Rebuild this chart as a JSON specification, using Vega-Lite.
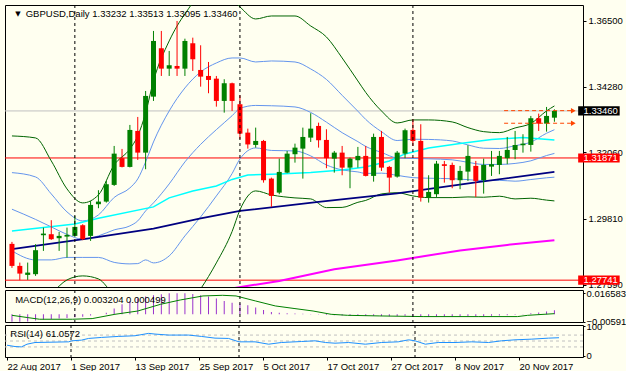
{
"$schema":"https://vega.github.io/schema/vega-lite/v6.json",
"background":"#FFFFF0",
"padding":{"left":4,"top":4,"right":0,"bottom":0},
"spacing":3,
"bounds":"flush",
"config":{"view":{"stroke":"#000000","strokeWidth":1,"fill":"#FFFFF0"},"font":"Liberation Sans",
"axis":{"labelFont":"Liberation Sans","labelFontSize":9.5,"labelColor":"#000000","tickColor":"#000000","domain":false,"grid":false}},
"datasets":{
"ohlc":[
{"i":0,"o":1.28967,"h":1.29034,"l":1.28156,"c":1.28223},
{"i":1,"o":1.28223,"h":1.28335,"l":1.27741,"c":1.27963},
{"i":2,"o":1.27919,"h":1.28335,"l":1.2775,"c":1.27997},
{"i":3,"o":1.27943,"h":1.28956,"l":1.27885,"c":1.28754},
{"i":4,"o":1.2926,"h":1.29517,"l":1.2873,"c":1.29315},
{"i":5,"o":1.29294,"h":1.29767,"l":1.29102,"c":1.29125},
{"i":6,"o":1.29159,"h":1.29372,"l":1.2873,"c":1.29237},
{"i":7,"o":1.29213,"h":1.29517,"l":1.28504,"c":1.29271},
{"i":8,"o":1.29237,"h":1.29912,"l":1.29203,"c":1.29541},
{"i":9,"o":1.29598,"h":1.29632,"l":1.29092,"c":1.29125},
{"i":10,"o":1.29237,"h":1.30419,"l":1.29068,"c":1.30284},
{"i":11,"o":1.30308,"h":1.30781,"l":1.30173,"c":1.30396},
{"i":12,"o":1.30396,"h":1.31095,"l":1.30362,"c":1.30983},
{"i":13,"o":1.3096,"h":1.32277,"l":1.30926,"c":1.32017},
{"i":14,"o":1.31865,"h":1.32176,"l":1.31551,"c":1.31568},
{"i":15,"o":1.31568,"h":1.32987,"l":1.31551,"c":1.32818},
{"i":16,"o":1.32784,"h":1.33257,"l":1.31804,"c":1.32051},
{"i":17,"o":1.32051,"h":1.34135,"l":1.3149,"c":1.33967},
{"i":18,"o":1.33943,"h":1.36163,"l":1.33798,"c":1.35825},
{"i":19,"o":1.35578,"h":1.36163,"l":1.34642,"c":1.34889},
{"i":20,"o":1.34889,"h":1.35487,"l":1.34642,"c":1.35004},
{"i":21,"o":1.3498,"h":1.365,"l":1.34642,"c":1.34889},
{"i":22,"o":1.34889,"h":1.35902,"l":1.34642,"c":1.35825},
{"i":23,"o":1.35747,"h":1.35936,"l":1.34811,"c":1.35206},
{"i":24,"o":1.34845,"h":1.35679,"l":1.34281,"c":1.34619},
{"i":25,"o":1.34642,"h":1.35115,"l":1.34058,"c":1.34507},
{"i":26,"o":1.34551,"h":1.34642,"l":1.33605,"c":1.33798},
{"i":27,"o":1.33798,"h":1.34531,"l":1.33402,"c":1.34396},
{"i":28,"o":1.34396,"h":1.34416,"l":1.3346,"c":1.33798},
{"i":29,"o":1.33686,"h":1.3399,"l":1.32504,"c":1.32693},
{"i":30,"o":1.32727,"h":1.32862,"l":1.32186,"c":1.32328},
{"i":31,"o":1.32311,"h":1.32896,"l":1.3222,"c":1.32446},
{"i":32,"o":1.32446,"h":1.3248,"l":1.31037,"c":1.31119},
{"i":33,"o":1.31173,"h":1.31206,"l":1.30217,"c":1.30588},
{"i":34,"o":1.307,"h":1.31848,"l":1.30646,"c":1.31399},
{"i":35,"o":1.31375,"h":1.32108,"l":1.31355,"c":1.32017},
{"i":36,"o":1.31997,"h":1.32355,"l":1.31713,"c":1.3222},
{"i":37,"o":1.32186,"h":1.32896,"l":1.31173,"c":1.32581},
{"i":38,"o":1.32558,"h":1.33382,"l":1.32412,"c":1.32862},
{"i":39,"o":1.32953,"h":1.33064,"l":1.3222,"c":1.3247},
{"i":40,"o":1.3248,"h":1.32841,"l":1.31524,"c":1.31862},
{"i":41,"o":1.31848,"h":1.32108,"l":1.31375,"c":1.32051},
{"i":42,"o":1.32051,"h":1.32277,"l":1.31287,"c":1.31544},
{"i":43,"o":1.31544,"h":1.31882,"l":1.30848,"c":1.31848},
{"i":44,"o":1.31794,"h":1.32244,"l":1.31544,"c":1.3194},
{"i":45,"o":1.3194,"h":1.32277,"l":1.31247,"c":1.31264},
{"i":46,"o":1.31264,"h":1.32693,"l":1.31071,"c":1.32581},
{"i":47,"o":1.32581,"h":1.32784,"l":1.31433,"c":1.31544},
{"i":48,"o":1.31568,"h":1.31602,"l":1.307,"c":1.31206},
{"i":49,"o":1.3124,"h":1.32108,"l":1.31206,"c":1.32051},
{"i":50,"o":1.32017,"h":1.32862,"l":1.31862,"c":1.32808},
{"i":51,"o":1.32818,"h":1.33179,"l":1.32277,"c":1.32446},
{"i":52,"o":1.32446,"h":1.3301,"l":1.30396,"c":1.30531},
{"i":53,"o":1.30531,"h":1.31287,"l":1.30362,"c":1.30723},
{"i":54,"o":1.30646,"h":1.31771,"l":1.30554,"c":1.31679},
{"i":55,"o":1.31659,"h":1.31771,"l":1.31037,"c":1.31602},
{"i":56,"o":1.31635,"h":1.31713,"l":1.30848,"c":1.31119},
{"i":57,"o":1.31119,"h":1.31602,"l":1.30815,"c":1.31433},
{"i":58,"o":1.31409,"h":1.32301,"l":1.31095,"c":1.3194},
{"i":59,"o":1.31602,"h":1.31771,"l":1.30554,"c":1.31095},
{"i":60,"o":1.31119,"h":1.31848,"l":1.30666,"c":1.31635},
{"i":61,"o":1.31578,"h":1.32108,"l":1.31264,"c":1.31659},
{"i":62,"o":1.31635,"h":1.32108,"l":1.31321,"c":1.3194},
{"i":63,"o":1.31862,"h":1.32581,"l":1.31659,"c":1.32142},
{"i":64,"o":1.32142,"h":1.32784,"l":1.31828,"c":1.32311},
{"i":65,"o":1.32301,"h":1.32673,"l":1.32051,"c":1.32355},
{"i":66,"o":1.32311,"h":1.33291,"l":1.32085,"c":1.33213},
{"i":67,"o":1.33213,"h":1.33369,"l":1.32784,"c":1.33031},
{"i":68,"o":1.33031,"h":1.33595,"l":1.3276,"c":1.33291},
{"i":69,"o":1.33232,"h":1.33513,"l":1.33095,"c":1.3346}
],
"bands":[
{"i":0,"GU":1.32615,"A":1.31375,"B":1.30139,"C":1.2873,"GL":1.27446},
{"i":3,"GU":1.32548,"A":1.3123,"B":1.29794,"C":1.28426,"GL":1.27041},
{"i":5,"GU":1.31771,"A":1.30656,"B":1.29541,"C":1.28426,"GL":1.27311},
{"i":7,"GU":1.30825,"A":1.30048,"B":1.29287,"C":1.2851,"GL":1.2775},
{"i":9,"GU":1.30352,"A":1.29744,"B":1.29125,"C":1.2851,"GL":1.27885},
{"i":11,"GU":1.30622,"A":1.29946,"B":1.29237,"C":1.2851,"GL":1.27784},
{"i":13,"GU":1.31635,"A":1.30537,"B":1.2944,"C":1.28342,"GL":1.27244},
{"i":15,"GU":1.32176,"A":1.30858,"B":1.29575,"C":1.28291,"GL":1.26973},
{"i":16,"GU":1.32615,"A":1.31162,"B":1.29744,"C":1.28301,"GL":1.26872},
{"i":17,"GU":1.33392,"A":1.31737,"B":1.30081,"C":1.28426,"GL":1.26771},
{"i":18,"GU":1.34473,"A":1.32412,"B":1.30352,"C":1.28325,"GL":1.26264},
{"i":20,"GU":1.35825,"A":1.3346,"B":1.30994,"C":1.28561,"GL":1.26129},
{"i":22,"GU":1.36737,"A":1.34237,"B":1.31737,"C":1.29237,"GL":1.26737},
{"i":24,"GU":1.3731,"A":1.34777,"B":1.32331,"C":1.29879,"GL":1.27446},
{"i":26,"GU":1.3731,"A":1.35081,"B":1.32828,"C":1.30588,"GL":1.28325},
{"i":28,"GU":1.3721,"A":1.3525,"B":1.33298,"C":1.31342,"GL":1.29385},
{"i":29,"GU":1.36973,"A":1.3525,"B":1.33544,"C":1.31838,"GL":1.30115},
{"i":31,"GU":1.36568,"A":1.35115,"B":1.33646,"C":1.3221,"GL":1.30757},
{"i":33,"GU":1.36669,"A":1.35149,"B":1.33635,"C":1.32125,"GL":1.30622},
{"i":36,"GU":1.36669,"A":1.35115,"B":1.33595,"C":1.32108,"GL":1.30521},
{"i":38,"GU":1.36331,"A":1.34879,"B":1.33409,"C":1.3194,"GL":1.30487},
{"i":40,"GU":1.3596,"A":1.34524,"B":1.33081,"C":1.31635,"GL":1.30193},
{"i":42,"GU":1.3525,"A":1.33987,"B":1.32725,"C":1.31467,"GL":1.302},
{"i":44,"GU":1.34473,"A":1.3345,"B":1.32423,"C":1.31399,"GL":1.30372},
{"i":45,"GU":1.34085,"A":1.33173,"B":1.3226,"C":1.31348,"GL":1.30436},
{"i":47,"GU":1.3346,"A":1.32759,"B":1.32058,"C":1.31357,"GL":1.30656},
{"i":49,"GU":1.33054,"A":1.3246,"B":1.31872,"C":1.31284,"GL":1.30696},
{"i":51,"GU":1.33156,"A":1.32504,"B":1.31855,"C":1.31206,"GL":1.30588},
{"i":53,"GU":1.33156,"A":1.32497,"B":1.31841,"C":1.31186,"GL":1.30531},
{"i":56,"GU":1.33088,"A":1.32446,"B":1.31808,"C":1.31169,"GL":1.30531},
{"i":58,"GU":1.32896,"A":1.32311,"B":1.31723,"C":1.31139,"GL":1.30554},
{"i":60,"GU":1.3276,"A":1.322,"B":1.31652,"C":1.31105,"GL":1.30544},
{"i":62,"GU":1.32727,"A":1.3219,"B":1.31652,"C":1.31115,"GL":1.30578},
{"i":64,"GU":1.32885,"A":1.32286,"B":1.31686,"C":1.31086,"GL":1.30487},
{"i":66,"GU":1.33038,"A":1.32406,"B":1.31774,"C":1.31142,"GL":1.3051},
{"i":68,"GU":1.3346,"A":1.32706,"B":1.31953,"C":1.312,"GL":1.30446},
{"i":69,"GU":1.33629,"A":1.32826,"B":1.32024,"C":1.31222,"GL":1.30419}
],
"mas":[
{"i":0,"s":"cyan","v":1.29406},{"i":8,"s":"cyan","v":1.29642},{"i":11,"s":"cyan","v":1.29835},{"i":18,"s":"cyan","v":1.30217},{"i":20,"s":"cyan","v":1.30521},{"i":23,"s":"cyan","v":1.30757},{"i":26,"s":"cyan","v":1.30926},{"i":28,"s":"cyan","v":1.31146},{"i":30,"s":"cyan","v":1.31298},{"i":34,"s":"cyan","v":1.31331},{"i":38,"s":"cyan","v":1.31382},{"i":42,"s":"cyan","v":1.31467},{"i":45,"s":"cyan","v":1.31568},{"i":48,"s":"cyan","v":1.31771},{"i":50,"s":"cyan","v":1.32007},{"i":53,"s":"cyan","v":1.3221},{"i":57,"s":"cyan","v":1.32362},{"i":61,"s":"cyan","v":1.32497},{"i":65,"s":"cyan","v":1.32565},{"i":69,"s":"cyan","v":1.3248},
{"i":0,"s":"navy","v":1.28787},{"i":10,"s":"navy","v":1.29159},{"i":18,"s":"navy","v":1.29483},{"i":24,"s":"navy","v":1.29828},{"i":29,"s":"navy","v":1.30081},{"i":39,"s":"navy","v":1.30385},{"i":49,"s":"navy","v":1.30673},{"i":59,"s":"navy","v":1.31044},{"i":69,"s":"navy","v":1.31399},
{"i":28,"s":"mag","v":1.27463},{"i":34,"s":"mag","v":1.27716},{"i":41,"s":"mag","v":1.28112},{"i":49,"s":"mag","v":1.28409},{"i":57,"s":"mag","v":1.28747},{"i":63,"s":"mag","v":1.28933},{"i":69,"s":"mag","v":1.29092}
],
"orders":[
{"g":"a","i":62.6,"p":1.3347},{"g":"a","i":71.4,"p":1.3347},
{"g":"b","i":62.6,"p":1.33044},{"g":"b","i":71.4,"p":1.33044}
],
"seps":[{"i":8},{"i":29},{"i":51}],
"macd":[
{"i":0,"h":-0.0059},{"i":1,"h":-0.0058},{"i":2,"h":-0.0056},{"i":3,"h":-0.0049},{"i":4,"h":-0.0042},{"i":5,"h":-0.0037},{"i":6,"h":-0.0033},{"i":7,"h":-0.0029},{"i":8,"h":-0.0023},{"i":9,"h":-0.002},
{"i":10,"h":-0.001},{"i":11,"h":0.0},{"i":12,"h":0.0012},{"i":13,"h":0.0045},{"i":14,"h":0.0079},{"i":15,"h":0.0105},{"i":16,"h":0.0124},{"i":17,"h":0.014},{"i":18,"h":0.015},{"i":19,"h":0.0158},
{"i":20,"h":0.0166},{"i":21,"h":0.0166},{"i":22,"h":0.0166},{"i":23,"h":0.0161},{"i":24,"h":0.015},{"i":25,"h":0.014},{"i":26,"h":0.0124},{"i":27,"h":0.0105},{"i":28,"h":0.0092},{"i":29,"h":0.0085},
{"i":30,"h":0.0071},{"i":31,"h":0.0053},{"i":32,"h":0.0034},{"i":33,"h":0.0018},{"i":34,"h":0.0012},{"i":35,"h":0.0008},{"i":36,"h":0.0006},{"i":37,"h":0.0004},{"i":38,"h":0.0003},{"i":39,"h":0.0002},
{"i":40,"h":-0.0005},{"i":41,"h":-0.0008},{"i":42,"h":-0.001},{"i":43,"h":-0.0012},{"i":44,"h":-0.0012},{"i":45,"h":-0.0014},{"i":46,"h":-0.0012},{"i":47,"h":-0.0013},{"i":48,"h":-0.0015},{"i":49,"h":-0.0014},
{"i":50,"h":-0.0012},{"i":51,"h":-0.0012},{"i":52,"h":-0.0018},{"i":53,"h":-0.002},{"i":54,"h":-0.0018},{"i":55,"h":-0.0017},{"i":56,"h":-0.0018},{"i":57,"h":-0.0017},{"i":58,"h":-0.0015},{"i":59,"h":-0.0016},
{"i":60,"h":-0.0014},{"i":61,"h":-0.0012},{"i":62,"h":-0.001},{"i":63,"h":-0.0007},{"i":64,"h":-0.0004},{"i":65,"h":-0.0002},{"i":66,"h":0.0008},{"i":67,"h":0.0014},{"i":68,"h":0.0022},{"i":69,"h":0.0032}
],
"signal":[
{"i":0,"s":-0.0008},{"i":2,"s":-0.0026},{"i":3.5,"s":-0.0039},{"i":7.7,"s":-0.0039},{"i":10.2,"s":-0.0034},{"i":13.1,"s":0.0},{"i":16,"s":0.0026},{"i":18.9,"s":0.0079},{"i":21.4,"s":0.0113},{"i":24.3,"s":0.0145},{"i":26.8,"s":0.015},{"i":28.5,"s":0.0145},{"i":31,"s":0.0105},{"i":33.5,"s":0.0066},{"i":36,"s":0.0045},{"i":38.3,"s":0.0026},{"i":40.6,"s":0.0},{"i":42.7,"s":-0.0008},{"i":46.8,"s":-0.0013},{"i":52.3,"s":-0.0018},{"i":59.3,"s":-0.0018},{"i":64.3,"s":-0.0018},{"i":65.6,"s":-0.0008},{"i":69,"s":0.0005}
],
"rsi":[
{"i":0,"r":35.8},{"i":1,"r":31.3},{"i":1.8,"r":30.1},{"i":2.5,"r":39.2},{"i":3.5,"r":44.9},{"i":7.7,"r":47.2},{"i":8.1,"r":50.6},{"i":9.3,"r":52.9},{"i":10.2,"r":58.6},{"i":11.8,"r":62},{"i":13.9,"r":65.4},{"i":16,"r":67.7},{"i":17.7,"r":75.7},{"i":18.5,"r":73.4},{"i":20.2,"r":70},{"i":22.7,"r":70},{"i":24.3,"r":65.4},{"i":26,"r":59.7},{"i":27.7,"r":58.6},{"i":29,"r":47.2},{"i":31,"r":47.2},{"i":32.7,"r":39.2},{"i":34.3,"r":44.9},{"i":36.8,"r":48.3},{"i":38.5,"r":50.6},{"i":39.8,"r":44.9},{"i":41,"r":42.6},{"i":42.7,"r":44.9},{"i":44.8,"r":39.2},{"i":46.8,"r":44.9},{"i":48.9,"r":47.2},{"i":50.2,"r":54},{"i":51,"r":50.6},{"i":52.3,"r":39.2},{"i":53.9,"r":44.9},{"i":56,"r":44.9},{"i":58.1,"r":47.2},{"i":60.2,"r":44.9},{"i":61.8,"r":50.6},{"i":63.5,"r":54},{"i":65.6,"r":56.3},{"i":67.7,"r":59.7},{"i":69,"r":61.06}
]
},
"vconcat":[
{"width":578,"height":282,
"layer":[
{"data":{"values":[{"p":1.31871,"k":"r"},{"p":1.27741,"k":"r"},{"p":1.3346,"k":"g"}]},
"mark":{"type":"rule","strokeWidth":1},
"encoding":{"y":{"field":"p","type":"quantitative","scale":{"domain":[1.2751,1.3704],"zero":false,"nice":false},
"axis":{"orient":"right","values":[1.365,1.3539,1.3428,1.3317,1.3206,1.3092,1.2981,1.287,1.2759],"format":".5f","tickSize":3,"labelPadding":2,"title":null}},
"color":{"field":"k","type":"nominal","scale":{"domain":["r","g"],"range":["#FF0000","#C0C0C0"]},"legend":null}}},
{"data":{"name":"bands"},"transform":[{"fold":["GU","A","B","C","GL"],"as":["s","v"]}],
"mark":{"type":"line","strokeWidth":1,"clip":true,"interpolate":"monotone"},
"encoding":{"x":{"field":"i","type":"quantitative","scale":{"domain":[-0.25,72],"nice":false,"zero":false},"axis":null},
"y":{"field":"v","type":"quantitative"},
"detail":{"field":"s","type":"nominal"},
"stroke":{"field":"s","type":"nominal","scale":{"domain":["GU","A","B","C","GL"],"range":["#006400","#6495ED","#6495ED","#6495ED","#006400"]},"legend":null}}},
{"data":{"name":"mas"},
"mark":{"type":"line","clip":true},
"encoding":{"x":{"field":"i","type":"quantitative"},
"y":{"field":"v","type":"quantitative"},
"detail":{"field":"s","type":"nominal"},
"strokeWidth":{"field":"s","type":"nominal","scale":{"domain":["cyan","navy","mag"],"range":[1.5,2,1.5]},"legend":null},
"color":{"field":"s","type":"nominal","scale":{"domain":["cyan","navy","mag"],"range":["#00FFFF","#000080","#FF00FF"]},"legend":null}}},
{"data":{"name":"ohlc"},
"mark":{"type":"rule","strokeWidth":1},
"encoding":{"x":{"field":"i","type":"quantitative"},"y":{"field":"l","type":"quantitative"},"y2":{"field":"h"},
"color":{"condition":{"test":"datum.c >= datum.o","value":"#008000"},"value":"#FF0000"}}},
{"data":{"name":"ohlc"},
"mark":{"type":"bar","size":5},
"encoding":{"x":{"field":"i","type":"quantitative"},"y":{"field":"o","type":"quantitative"},"y2":{"field":"c"},
"color":{"condition":{"test":"datum.c >= datum.o","value":"#008000"},"value":"#FF0000"}}},
{"data":{"name":"seps"},
"mark":{"type":"rule","strokeDash":[3,3],"color":"#000000","strokeWidth":1},
"encoding":{"x":{"field":"i","type":"quantitative"}}},
{"data":{"name":"orders"},
"mark":{"type":"line","strokeDash":[4,3],"color":"#FF4500","strokeWidth":1},
"encoding":{"x":{"field":"i","type":"quantitative"},"y":{"field":"p","type":"quantitative"},"detail":{"field":"g","type":"nominal"}}},
{"data":{"name":"orders"},"transform":[{"filter":"datum.i > 70"}],
"mark":{"type":"point","shape":"triangle-right","filled":true,"size":30,"color":"#FF4500","opacity":1},
"encoding":{"x":{"field":"i","type":"quantitative"},"y":{"field":"p","type":"quantitative"}}},
{"data":{"values":[{"p":1.3346,"k":"b"},{"p":1.31871,"k":"r"},{"p":1.27741,"k":"r"}]},
"mark":{"type":"point","shape":"M-1,-0.22H1V0.22H-1Z","filled":true,"size":1722,"strokeWidth":0,"opacity":1},
"encoding":{"x":{"datum":74.66},"y":{"field":"p","type":"quantitative"},
"fill":{"field":"k","type":"nominal","scale":{"domain":["b","r"],"range":["#000000","#FF0000"]},"legend":null}}},
{"data":{"values":[{"p":1.3346,"t":"1.33460"},{"p":1.31871,"t":"1.31871"},{"p":1.27741,"t":"1.27741"}]},
"mark":{"type":"text","align":"left","baseline":"middle","color":"#FFFFFF","fontSize":9.5,"font":"Liberation Sans"},
"encoding":{"x":{"datum":72.7},"y":{"field":"p","type":"quantitative"},"text":{"field":"t","type":"nominal"}}},
{"data":{"values":[{"t":"GBPUSD,Daily  1.33232 1.33513 1.33095 1.33460"}]},
"mark":{"type":"text","align":"left","baseline":"middle","color":"#000000","fontSize":9.5,"font":"Liberation Sans"},
"encoding":{"x":{"datum":1.75},"y":{"datum":1.36736},"text":{"field":"t","type":"nominal"}}},
{"data":{"values":[{"t":"▼"}]},
"mark":{"type":"text","align":"center","baseline":"middle","color":"#000000","fontSize":7,"font":"DejaVu Sans"},
"encoding":{"x":{"datum":0.75},"y":{"datum":1.36736},"text":{"field":"t","type":"nominal"}}}
],
"resolve":{"scale":{"color":"independent","fill":"independent","stroke":"independent","strokeWidth":"independent"}}
},
{"width":578,"height":32,
"layer":[
{"data":{"name":"macd"},
"mark":{"type":"bar","color":"#9932CC","size":1},
"encoding":{"x":{"field":"i","type":"quantitative","scale":{"domain":[-0.25,72],"nice":false,"zero":false},"axis":null},
"y":{"field":"h","type":"quantitative","scale":{"domain":[-0.00608,0.01919],"nice":false,"zero":false},
"axis":{"orient":"right","values":[0.016583,0,-0.005919],"labelExpr":"datum.value == 0 ? '0.00' : format(datum.value, '.6f')","tickSize":2,"labelPadding":1,"title":null}}}},
{"data":{"name":"signal"},
"mark":{"type":"line","color":"#008000","strokeWidth":1},
"encoding":{"x":{"field":"i","type":"quantitative"},"y":{"field":"s","type":"quantitative"}}},
{"data":{"name":"seps"},
"mark":{"type":"rule","strokeDash":[3,3],"color":"#000000","strokeWidth":1},
"encoding":{"x":{"field":"i","type":"quantitative"}}},
{"data":{"values":[{"t":"MACD(12,26,9) 0.003204 0.000499"}]},
"mark":{"type":"text","align":"left","baseline":"middle","color":"#000000","fontSize":9.5,"font":"Liberation Sans"},
"encoding":{"x":{"datum":0.41},"y":{"datum":0.0113},"text":{"field":"t","type":"nominal"}}}
]},
{"width":578,"height":32,
"layer":[
{"data":{"values":[{"r":70},{"r":50},{"r":30}]},
"mark":{"type":"rule","strokeDash":[3,3],"color":"#C0C0C0","strokeWidth":1},
"encoding":{"y":{"field":"r","type":"quantitative","scale":{"domain":[-4,104],"nice":false,"zero":false},
"axis":{"orient":"right","values":[100,70,50,30,0],"tickSize":2,"labelPadding":1,"title":null}}}},
{"data":{"name":"rsi"},
"mark":{"type":"line","color":"#1E90FF","strokeWidth":1},
"encoding":{"x":{"field":"i","type":"quantitative","scale":{"domain":[-0.25,72],"nice":false,"zero":false},
"axis":{"orient":"bottom","values":[0,8,16,24,32,40,48,56,64],"labelExpr":"['22 Aug 2017','1 Sep 2017','13 Sep 2017','25 Sep 2017','5 Oct 2017','17 Oct 2017','27 Oct 2017','8 Nov 2017','20 Nov 2017'][round(datum.value/8)]","labelAlign":"left","labelPadding":1,"tickSize":3,"labelFlush":false,"labelOverlap":false,"title":null}},
"y":{"field":"r","type":"quantitative"}}},
{"data":{"name":"seps"},
"mark":{"type":"rule","strokeDash":[3,3],"color":"#000000","strokeWidth":1},
"encoding":{"x":{"field":"i","type":"quantitative"}}},
{"data":{"values":[{"t":"RSI(14) 61.0572"}]},
"mark":{"type":"text","align":"left","baseline":"middle","color":"#000000","fontSize":9.5,"font":"Liberation Sans"},
"encoding":{"x":{"datum":0.41},"y":{"datum":73.6},"text":{"field":"t","type":"nominal"}}}
]}
]
}
